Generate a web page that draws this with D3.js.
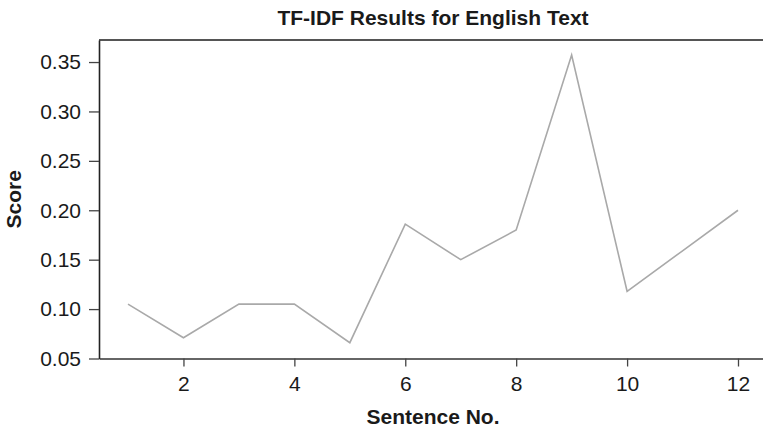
<!DOCTYPE html>
<html>
<head>
<meta charset="utf-8">
<script src="https://cdn.jsdelivr.net/npm/d3@7"></script>
<style>
  body { margin: 0; background: #fff; }
  text { font-family: "Liberation Sans", Arial, sans-serif; }
</style>
</head>
<body>
<div id="chart-container"></div>
<script>
// data
const sentences = [1, 2, 3, 4, 5, 6, 7, 8, 9, 10, 11, 12];
const scores = [0.105, 0.071, 0.105, 0.105, 0.066, 0.186, 0.150, 0.180, 0.357, 0.118, 0.159, 0.200];
const xTicks = [2, 4, 6, 8, 10, 12];
const yTicks = [0.05, 0.10, 0.15, 0.20, 0.25, 0.30, 0.35];

const W = 763, H = 429;
const plot = { left: 99, right: 767, top: 40, bottom: 358.5 };

const x = d3.scaleLinear()
    .domain([0.477, 12.523])
    .range([plot.left, plot.right]);

const y = d3.scaleLinear()
    .domain([0.05, 0.3723])
    .range([plot.bottom, plot.top]);

const svg = d3.select("#chart-container")
  .append("svg")
    .attr("width", W)
    .attr("height", H);

// the line
const line = d3.line()
    .x((d, i) => x(sentences[i]))
    .y(d => y(d));

svg.append("path")
    .datum(scores)
    .attr("fill", "none")
    .attr("stroke", "#a9a9a9")
    .attr("stroke-width", 1.6)
    .attr("d", line);

// top border (box is open on the right, cut off by the edge)
svg.append("line")
    .attr("x1", plot.left)
    .attr("x2", plot.right)
    .attr("y1", plot.top)
    .attr("y2", plot.top)
    .attr("stroke", "#555")
    .attr("stroke-width", 2);

// y axis
svg.append("g")
    .attr("transform", `translate(${plot.left},0)`)
    .style("font-size", "21px")
    .call(d3.axisLeft(y)
        .tickValues(yTicks)
        .tickFormat(d3.format(".2f"))
        .tickSize(10)
        .tickSizeOuter(0)
        .tickPadding(8))
    .call(g => g.select(".domain").attr("stroke", "#222").attr("stroke-width", 1.6))
    .call(g => g.selectAll(".tick line").attr("stroke", "#444").attr("stroke-width", 1.3))
    .call(g => g.selectAll(".tick text").attr("fill", "#1a1a1a").style("font-family", "Liberation Sans, Arial, sans-serif"));

// x axis
svg.append("g")
    .attr("transform", `translate(0,${plot.bottom})`)
    .style("font-size", "21px")
    .call(d3.axisBottom(x)
        .tickValues(xTicks)
        .tickSize(8)
        .tickSizeOuter(0)
        .tickPadding(10))
    .call(g => g.select(".domain").attr("stroke", "#333").attr("stroke-width", 1.6))
    .call(g => g.selectAll(".tick line").attr("stroke", "#444").attr("stroke-width", 1.3))
    .call(g => g.selectAll(".tick text").attr("fill", "#1a1a1a").style("font-family", "Liberation Sans, Arial, sans-serif"));

// title and axis labels
svg.append("text")
    .attr("x", (plot.left + plot.right) / 2)
    .attr("y", 25)
    .attr("text-anchor", "middle")
    .style("font-size", "21px")
    .style("font-weight", "bold")
    .attr("fill", "#1a1a1a")
    .text("TF-IDF Results for English Text");

svg.append("text")
    .attr("x", (plot.left + plot.right) / 2)
    .attr("y", 424)
    .attr("text-anchor", "middle")
    .style("font-size", "21px")
    .style("font-weight", "bold")
    .attr("fill", "#1a1a1a")
    .text("Sentence No.");

svg.append("text")
    .attr("transform", `translate(21,${(plot.top + plot.bottom) / 2}) rotate(-90)`)
    .attr("text-anchor", "middle")
    .style("font-size", "21px")
    .style("font-weight", "bold")
    .attr("fill", "#1a1a1a")
    .text("Score");
</script>
</body>
</html>
